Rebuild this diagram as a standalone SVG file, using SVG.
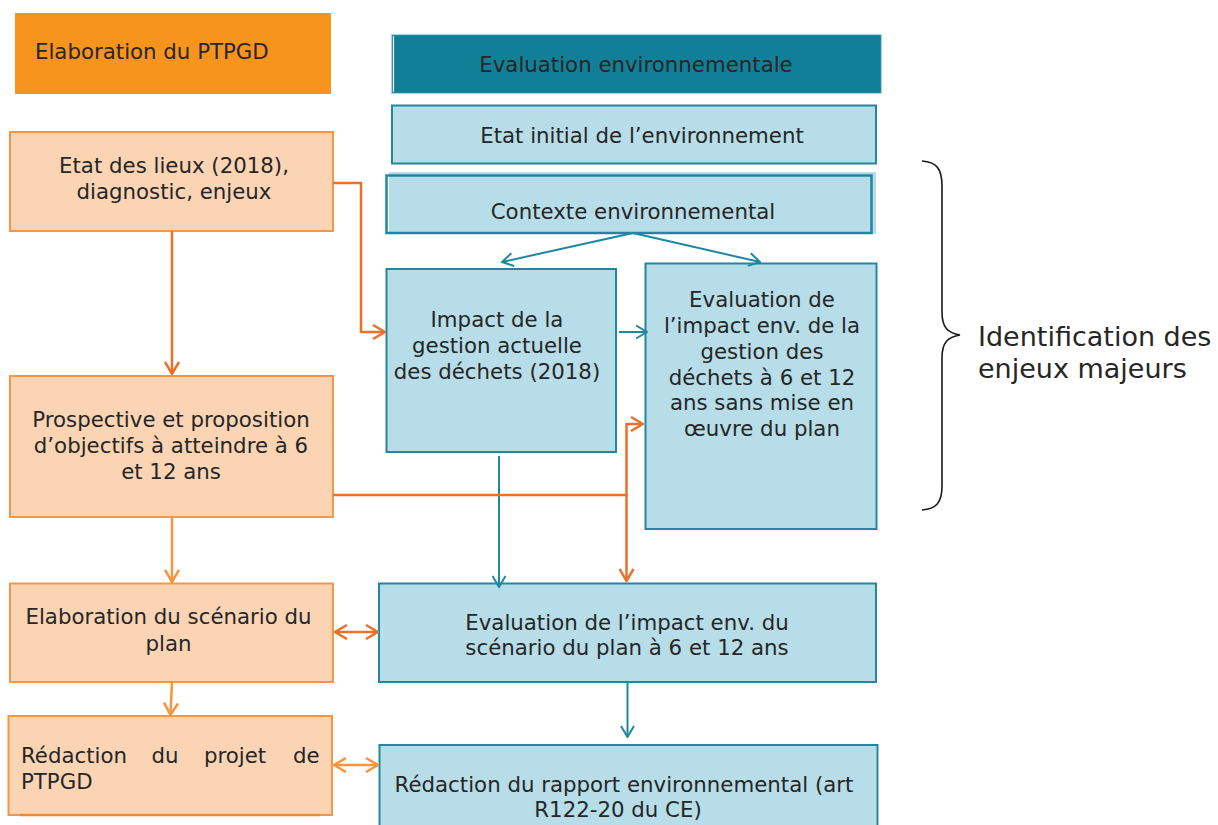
<svg xmlns="http://www.w3.org/2000/svg" width="1218" height="825" viewBox="0 0 1218 825">
<style>
text{font-family:"DejaVu Sans","Verdana",sans-serif;font-size:21.3px;fill:#262626}
.c{text-anchor:middle}
.po{fill:#FBD4B4;stroke:#F79646;stroke-width:2}
.bl{fill:#B6DDE8;stroke:#2288A0;stroke-width:2}
.lo{fill:none;stroke:#E8712D;stroke-width:2.5}
.lo2{fill:none;stroke:#F7963C;stroke-width:2.5}
.lt{fill:none;stroke:#1F87A0;stroke-width:2}
.big{font-size:27px}
</style>
<defs>
<marker id="ao" viewBox="0 0 14 16" refX="13" refY="8" markerWidth="14" markerHeight="16" markerUnits="userSpaceOnUse" orient="auto-start-reverse"><path d="M1,1 L13,8 L1,15" fill="none" stroke="#E8712D" stroke-width="2.5"/></marker>
<marker id="ao2" viewBox="0 0 14 16" refX="13" refY="8" markerWidth="14" markerHeight="16" markerUnits="userSpaceOnUse" orient="auto-start-reverse"><path d="M1,1 L13,8 L1,15" fill="none" stroke="#F7963C" stroke-width="2.5"/></marker>
<marker id="at" viewBox="0 0 13 15" refX="12" refY="7.5" markerWidth="13" markerHeight="15" markerUnits="userSpaceOnUse" orient="auto"><path d="M1,1 L12,7.5 L1,14" fill="none" stroke="#1F87A0" stroke-width="2"/></marker>
</defs>

<g id="hdr-plan"><rect x="15" y="13" width="316" height="81" fill="#F7941E"/><text x="35" y="59">Elaboration du PTPGD</text></g>
<g id="hdr-ee"><rect x="391.5" y="34.5" width="490" height="59" fill="#127F98" stroke="#A8D6E2" stroke-width="1.2"/><line x1="393.5" y1="36" x2="393.5" y2="92" stroke="#FFFFFF" stroke-width="1.2"/><text class="c" x="636" y="72">Evaluation environnementale</text></g>
<g id="n-etat-initial"><rect class="bl" x="392" y="105.5" width="484" height="58"/><text class="c" x="642" y="143">Etat initial de l’environnement</text></g>
<g id="n-contexte"><rect x="389" y="172" width="487" height="62" fill="#B6DDE8"/><rect x="386.5" y="175.5" width="485" height="57.5" fill="none" stroke="#1F87A0" stroke-width="2.5"/><text class="c" x="633" y="219">Contexte environnemental</text></g>
<g id="n-impact"><rect class="bl" x="386.5" y="269" width="229.5" height="183"/><text class="c" x="497" y="327">Impact de la</text><text class="c" x="497" y="353">gestion actuelle</text><text class="c" x="497" y="379">des déchets (2018)</text></g>
<g id="n-eval-sans"><rect class="bl" x="645.5" y="263.5" width="231" height="265.5"/><text class="c" x="762" y="307">Evaluation de</text><text class="c" x="762" y="333">l’impact env. de la</text><text class="c" x="762" y="359">gestion des</text><text class="c" x="762" y="385">déchets à 6 et 12</text><text class="c" x="762" y="410">ans sans mise en</text><text class="c" x="762" y="436">œuvre du plan</text></g>
<g id="n-etat-lieux"><rect class="po" x="10" y="132" width="323" height="99"/><text class="c" x="174" y="173">Etat des lieux (2018),</text><text class="c" x="174" y="199">diagnostic, enjeux</text></g>
<g id="n-prospective"><rect class="po" x="10" y="376" width="323" height="141"/><text class="c" x="171" y="427">Prospective et proposition</text><text class="c" x="171" y="453">d’objectifs à atteindre à 6</text><text class="c" x="171" y="479">et 12 ans</text></g>
<g id="n-scenario"><rect class="po" x="10" y="583.5" width="323" height="98.5"/><text class="c" x="168.5" y="624">Elaboration du scénario du</text><text class="c" x="168.5" y="651">plan</text></g>
<g id="n-redaction"><rect class="po" x="8.5" y="716" width="323.5" height="99"/><line x1="20" y1="815" x2="320" y2="815" stroke="#F08A2E" stroke-width="2.5"/><text y="763"><tspan x="21">Rédaction</tspan> <tspan x="151.5">du</tspan> <tspan x="204">projet</tspan> <tspan x="293">de</tspan></text><text x="21" y="789">PTPGD</text></g>
<g id="n-eval-scenario"><rect class="bl" x="379" y="583.5" width="497" height="98.5"/><text class="c" x="627" y="630">Evaluation de l’impact env. du</text><text class="c" x="627" y="655">scénario du plan à 6 et 12 ans</text></g>
<g id="n-rapport"><rect class="bl" x="379.5" y="745" width="498" height="90"/><text class="c" x="624" y="792">Rédaction du rapport environnemental (art</text><text class="c" x="618" y="817">R122-20 du CE)</text></g>

<g id="brace"><path d="M922,161 C936,162 942,168 942,186 L942,312 C942,328 948,333 960,335 C948,337 942,342 942,358 L942,486 C942,503 936,509 922,510" fill="none" stroke="#1A1A1A" stroke-width="1.6"/><text class="big" x="978" y="346">Identification des</text><text class="big" x="978" y="378">enjeux majeurs</text></g>

<g id="connectors">
<path class="lt" d="M633,233 L502,262" marker-end="url(#at)"/>
<path class="lt" d="M633,233 L760,262" marker-end="url(#at)"/>
<path class="lt" d="M619,332 L647,332" marker-end="url(#at)"/>
<path class="lt" d="M499,456 L499,587" marker-end="url(#at)"/>
<path class="lt" d="M627.5,682 L627.5,737" marker-end="url(#at)"/>
<path class="lo" d="M333,183 L361,183 L361,332 L385,332" marker-end="url(#ao)"/>
<path class="lo" d="M172,231 L172,374" marker-end="url(#ao)"/>
<path class="lo" d="M333,495 L626.5,495 L626.5,424 L643,424" marker-end="url(#ao)"/>
<path class="lo" d="M626.5,495 L626.5,581" marker-end="url(#ao)"/>
<path class="lo2" d="M172,517 L172,582" marker-end="url(#ao2)"/>
<path class="lo2" d="M172,682 L170.5,715" marker-end="url(#ao2)"/>
<path class="lo" d="M335,632 L378,632" marker-start="url(#ao)" marker-end="url(#ao)"/>
<path class="lo2" d="M334,765 L378,765" marker-start="url(#ao2)" marker-end="url(#ao2)"/>
</g>
</svg>
